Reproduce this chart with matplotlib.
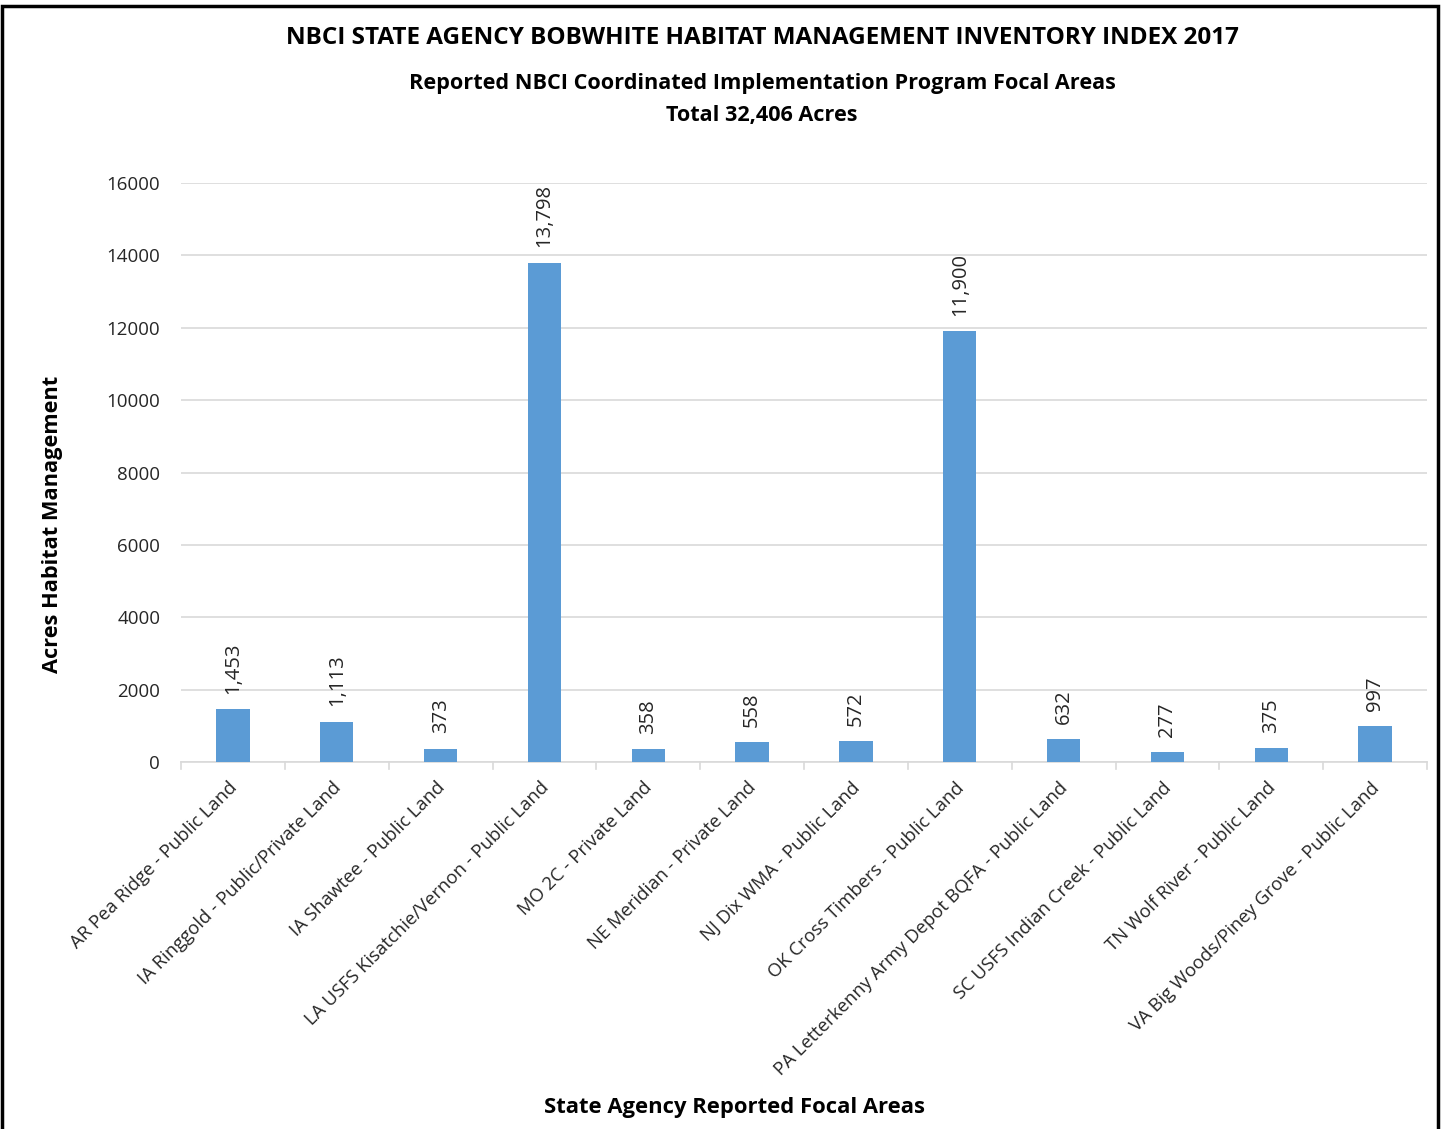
import matplotlib.pyplot as plt
from matplotlib.patches import Rectangle
from matplotlib.transforms import ScaledTranslation
import numpy as np

plt.rcParams['font.family'] = ['Open Sans', 'DejaVu Sans']

areas = [
    "AR Pea Ridge - Public Land",
    "IA Ringgold - Public/Private Land",
    "IA Shawtee - Public Land",
    "LA USFS Kisatchie/Vernon - Public Land",
    "MO 2C - Private Land",
    "NE Meridian - Private Land",
    "NJ Dix WMA - Public Land",
    "OK Cross Timbers - Public Land",
    "PA Letterkenny Army Depot BQFA - Public Land",
    "SC USFS Indian Creek - Public Land",
    "TN Wolf River - Public Land",
    "VA Big Woods/Piney Grove - Public Land",
]
acres = [1453, 1113, 373, 13798, 358, 558, 572, 11900, 632, 277, 375, 997]
yticks = [0, 2000, 4000, 6000, 8000, 10000, 12000, 14000, 16000]

W, H = 1442, 1129
fig = plt.figure(figsize=(W / 100, H / 100), dpi=100)
ax = fig.add_axes([181 / W, 1 - 762 / H, (1427 - 181) / W, (762 - 183) / H])

x = np.arange(len(areas))
ax.bar(x, acres, width=0.32, color="#5b9bd5", zorder=3)
for xi, v in zip(x, acres):
    ax.annotate(f"{v:,}", (xi, v), xytext=(0, 11), textcoords="offset points",
                rotation=90, ha="center", va="bottom", fontsize=14.5,
                color="#262626")

ax.set_xlim(-0.5, len(areas) - 0.5)
ax.set_ylim(0, 16000)
ax.set_yticks(yticks)
ax.set_yticklabels([str(t) for t in yticks], fontsize=13.5, color="#262626")
ax.tick_params(axis="y", length=0, pad=15)
ax.grid(axis="y", color="#d9d9d9", linewidth=1.2, zorder=0)

ax.set_xticks(x)
ax.set_xticklabels(areas, rotation=45, ha="right", rotation_mode="anchor",
                   fontsize=13.3, color="#262626")
ax.tick_params(axis="x", length=0, pad=12)
shift = ScaledTranslation(-5 / 100, 0, fig.dpi_scale_trans)
for lab in ax.get_xticklabels():
    lab.set_transform(lab.get_transform() + shift)
# boundary ticks between categories
for b in np.arange(-0.5, len(areas), 1.0):
    ax.plot([b, b], [0, -180], color="#d9d9d9", linewidth=1.2, clip_on=False)

for s in ["top", "right", "left"]:
    ax.spines[s].set_visible(False)
ax.spines["bottom"].set_color("#d9d9d9")
ax.spines["bottom"].set_linewidth(1.2)

fig.text(762 / W, 1 - 38 / H,
         "NBCI STATE AGENCY BOBWHITE HABITAT MANAGEMENT INVENTORY INDEX 2017",
         ha="center", va="center", fontsize=17.5, fontweight="bold")
fig.text(762 / W, 1 - 83 / H,
         "Reported NBCI Coordinated Implementation Program Focal Areas",
         ha="center", va="center", fontsize=15.6, fontweight="bold")
fig.text(762 / W, 1 - 115 / H, "Total 32,406 Acres",
         ha="center", va="center", fontsize=15.6, fontweight="bold")
fig.text(53 / W, 1 - 524 / H, "Acres Habitat Management", rotation=90,
         ha="center", va="center", fontsize=15.7, fontweight="bold")
fig.text(735 / W, 1 - 1107 / H, "State Agency Reported Focal Areas",
         ha="center", va="center", fontsize=15.8, fontweight="bold")

fig.patches.append(Rectangle((2 / W, -0.05), (1438 - 2) / W, 1.05 - 6 / H,
                             transform=fig.transFigure, fill=False,
                             edgecolor="black", linewidth=2.5))

fig.savefig("out.png", dpi=100)
